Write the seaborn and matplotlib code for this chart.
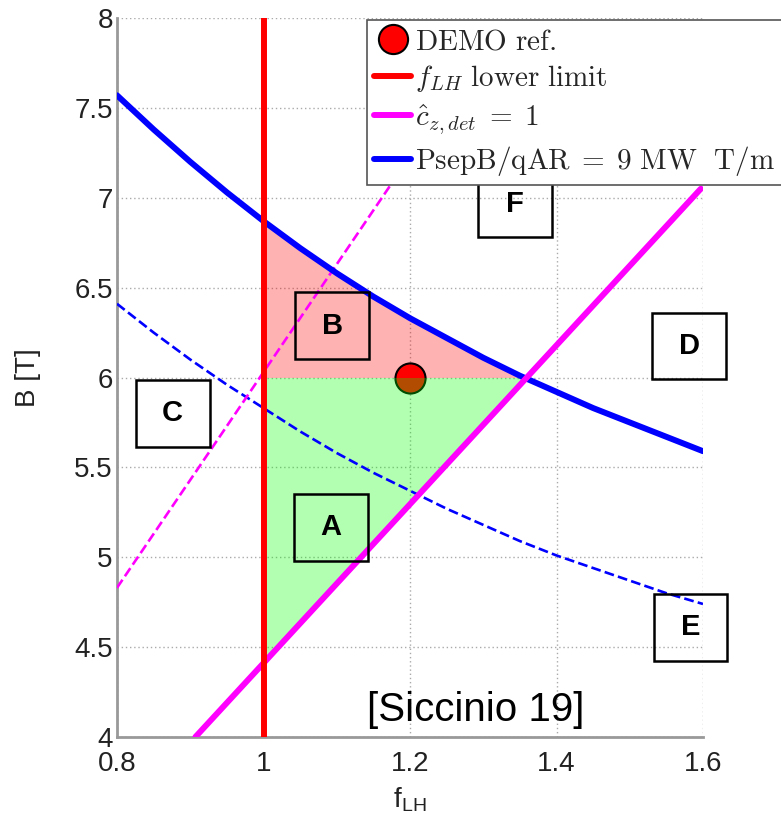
import numpy as np
import matplotlib
matplotlib.use("Agg")
import matplotlib.pyplot as plt
from matplotlib.lines import Line2D
from matplotlib.patches import Rectangle
import seaborn as sns

# ---- data ----
psep_f = [0.80, 0.85, 0.90, 0.95, 1.00, 1.05, 1.10, 1.15, 1.20, 1.25, 1.30, 1.35, 1.40, 1.45, 1.50, 1.55, 1.60]
psep_B = [7.57, 7.38, 7.20, 7.03, 6.87, 6.72, 6.58, 6.45, 6.33, 6.22, 6.11, 6.01, 5.92, 5.83, 5.75, 5.67, 5.59]
psep_dash_B = [6.41, 6.25, 6.10, 5.96, 5.83, 5.70, 5.58, 5.47, 5.37, 5.27, 5.18, 5.09, 5.01, 4.94, 4.87, 4.80, 4.74]
cz_f = [0.907, 1.597]
cz_B = [4.0, 7.05]
cz_dash_f = [0.8, 1.0, 1.22]
cz_dash_B = [4.83, 6.03, 7.35]
flh_f = [1.0, 1.0]
flh_B = [4.0, 8.0]
demo_f = [1.2]
demo_B = [6.0]
B_ref = 6.0
region_f_lo, region_f_hi = 1.0, 1.36
box_labels = ["F", "D", "B", "C", "A", "E"]
box_f = [1.343, 1.581, 1.094, 0.876, 1.092, 1.583]
box_B = [6.967, 6.175, 6.289, 5.800, 5.167, 4.611]
xticks = [0.8, 1.0, 1.2, 1.4, 1.6]
xticklabels = ["0.8", "1", "1.2", "1.4", "1.6"]
yticks = [4, 4.5, 5, 5.5, 6, 6.5, 7, 7.5, 8]
yticklabels = ["4", "4.5", "5", "5.5", "6", "6.5", "7", "7.5", "8"]

sns.set_theme(style="white")
plt.rcParams['font.family'] = ['Liberation Sans', 'DejaVu Sans']
plt.rcParams['mathtext.fontset'] = 'cm'

fig = plt.figure(figsize=(7.81, 8.17), dpi=100)
ax = fig.add_axes([117/781, 1-737/817, 586/781, 719/817])

# fills
xf = np.linspace(region_f_lo, region_f_hi, 200)
blue_top = np.interp(xf, psep_f, psep_B)
mag_bot = np.interp(xf, cz_f, cz_B)
ax.fill_between(xf, B_ref, np.maximum(blue_top, B_ref), color=(1, 0, 0), alpha=0.3, lw=0, zorder=1)

# DEMO point (under the green layer)
sns.scatterplot(x=demo_f, y=demo_B, ax=ax, s=470, color="red", edgecolor="black",
                linewidth=1.5, zorder=2, legend=False)
ax.fill_between(xf, np.minimum(mag_bot, B_ref), B_ref, color=(0, 1, 0), alpha=0.3, lw=0, zorder=3)

# lines
sns.lineplot(x=psep_f, y=psep_dash_B, ax=ax, color="blue", lw=1.9, linestyle="--",
             sort=False, estimator=None, zorder=4)
sns.lineplot(x=cz_dash_f, y=cz_dash_B, ax=ax, color="magenta", lw=1.9, linestyle="--",
             sort=False, estimator=None, zorder=4)
sns.lineplot(x=psep_f, y=psep_B, ax=ax, color="blue", lw=4.3, sort=False, estimator=None, zorder=5,
             solid_joinstyle="round")
sns.lineplot(x=cz_f, y=cz_B, ax=ax, color="magenta", lw=4.3, sort=False, estimator=None, zorder=5)
sns.lineplot(x=flh_f, y=flh_B, ax=ax, color="red", lw=4.3, sort=False, estimator=None, zorder=6)

# region boxes
bw, bh = 74/735, 67/180
for lab, bf, bb in zip(box_labels, box_f, box_B):
    ax.add_patch(Rectangle((bf - bw/2, bb - bh/2), bw, bh, fill=False, ec="black",
                           lw=1.8, zorder=7, clip_on=False))
    ax.text(bf, bb, lab, ha="center", va="center", fontsize=21, fontweight="bold",
            color="black", zorder=8)

ax.text(1.29, 4.15, "[Siccinio 19]", ha="center", va="center", fontsize=29, color="black", zorder=8)

ax.set_xlim(0.8, 1.6)
ax.set_ylim(4, 8)
ax.set_xticks(xticks)
ax.set_xticklabels(xticklabels)
ax.set_yticks(yticks)
ax.set_yticklabels(yticklabels)
ax.tick_params(axis="both", labelsize=20, direction="in", length=4, color="#999999",
               labelcolor="#222222")
ax.tick_params(axis="x", pad=10)
ax.tick_params(axis="y", pad=3)
ax.grid(True, linestyle=(0, (1, 2)), color="#aaaaaa", lw=1)
for s in ["top", "right"]:
    ax.spines[s].set_visible(False)
for s in ["left", "bottom"]:
    ax.spines[s].set_color("#999999")
    ax.spines[s].set_linewidth(2)
ax.set_xlabel("f$_{\\mathregular{LH}}$", fontsize=20, labelpad=6, color="#222222")
ax.set_ylabel("B [T]", fontsize=20, labelpad=24, color="#222222")

handles = [
    Line2D([], [], marker="o", color="none", markerfacecolor="red", markeredgecolor="black",
           markersize=21, markeredgewidth=1.5),
    Line2D([], [], color="red", lw=4.3),
    Line2D([], [], color="magenta", lw=4.3),
    Line2D([], [], color="blue", lw=4.3),
]
labels = [r"$\mathrm{DEMO\ ref.}$", r"$f_{LH}\ \mathrm{lower\ limit}$",
          r"$\hat{c}_{z,det}\;=\;1$", r"$\mathrm{PsepB/qAR}\;=\;9\ \mathrm{MW\ \ T/m}$"]
leg = fig.legend(handles, labels, loc="upper left", bbox_to_anchor=(367/781, 1-20/817),
                 fontsize=21, frameon=True, fancybox=False, framealpha=1, edgecolor="#555555",
                 handlelength=1.27, handletextpad=0.12, borderpad=0.25, labelspacing=0.27,
                 borderaxespad=0)
leg.get_frame().set_linewidth(1.2)
leg.set_zorder(20)

fig.savefig("out.png", dpi=100)
